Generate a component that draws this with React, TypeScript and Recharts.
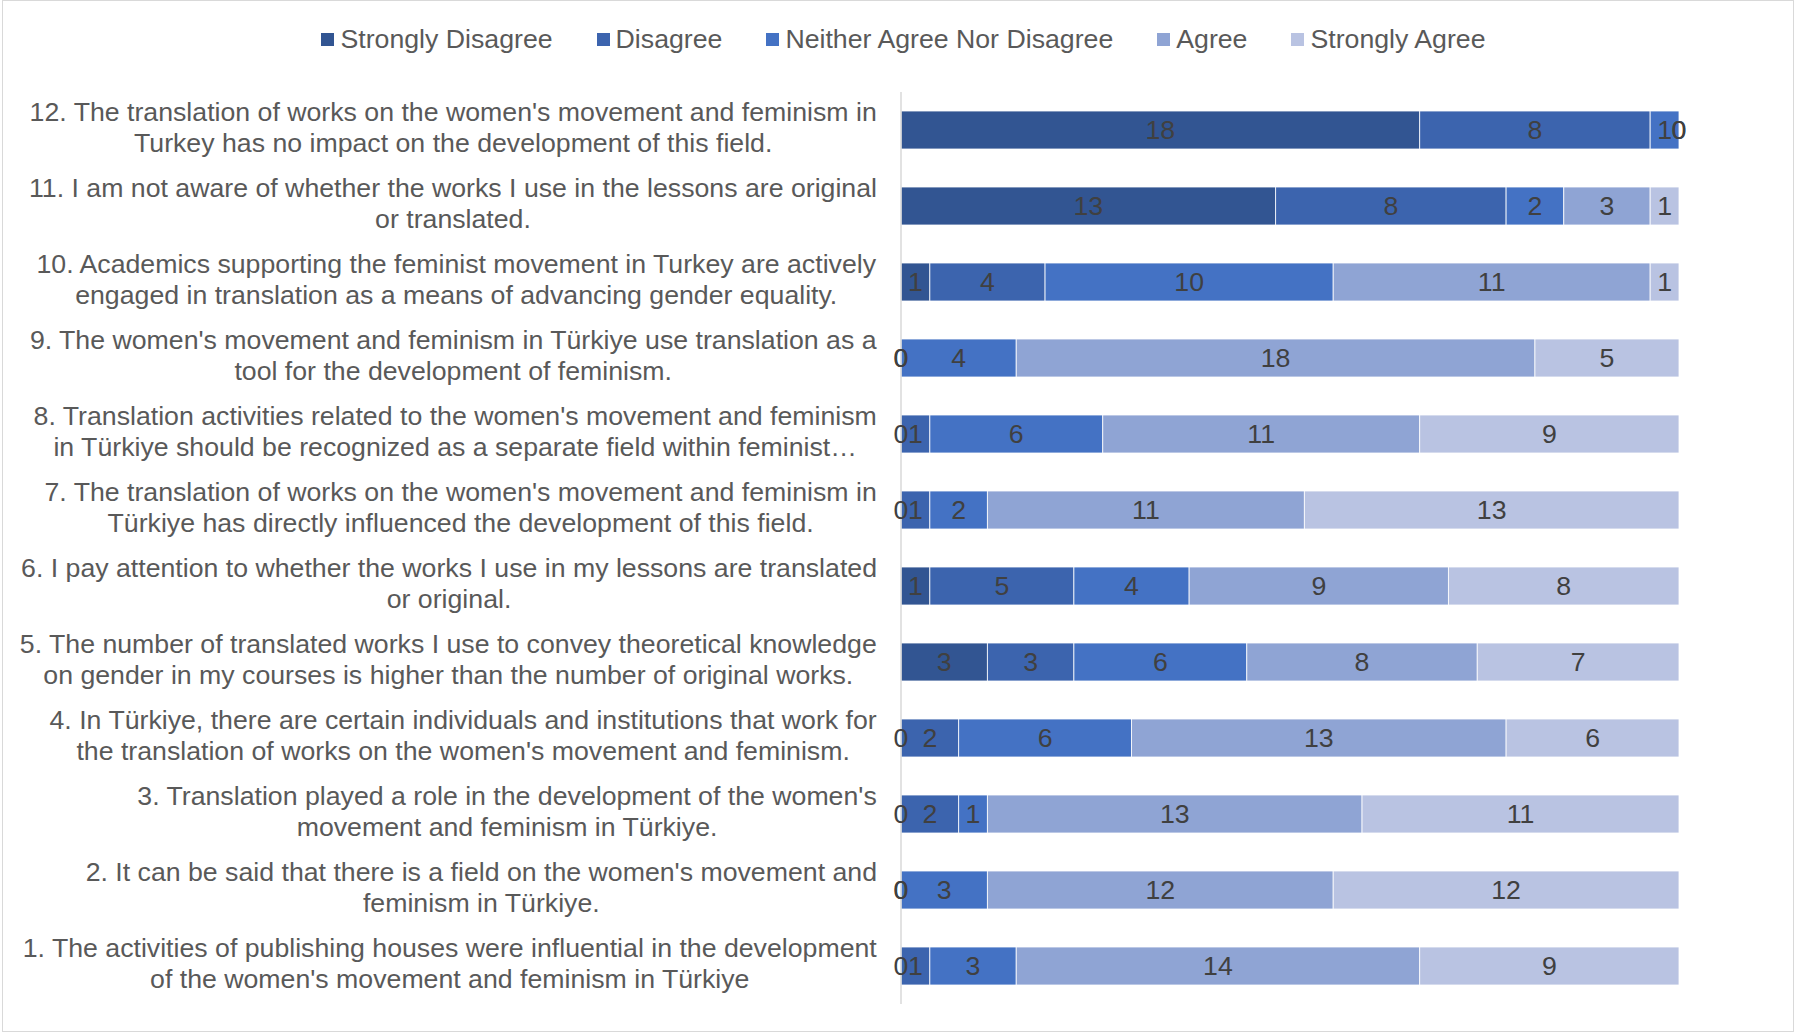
import React from 'react';
import { BarChart, Bar, XAxis, YAxis, LabelList } from 'recharts';

const FONT = '"Liberation Sans", Arial, sans-serif';
const FS = 26.7;

// survey items, top to bottom (explicit line breaks as in the original)
const questions = [
  "12. The translation of works on the women's movement and feminism in\nTurkey has no impact on the development of this field.",
  "11. I am not aware of whether the works I use in the lessons are original\nor translated.",
  "10. Academics supporting the feminist movement in Turkey are actively\nengaged in translation as a means of advancing gender equality.",
  "9. The women's movement and feminism in Türkiye use translation as a\ntool for the development of feminism.",
  "8. Translation activities related to the women's movement and feminism\nin Türkiye should be recognized as a separate field within feminist…",
  "7. The translation of works on the women's movement and feminism in\nTürkiye has directly influenced the development of this field.",
  "6. I pay attention to whether the works I use in my lessons are translated\nor original.",
  "5. The number of translated works I use to convey theoretical knowledge\non gender in my courses is higher than the number of original works.",
  "4. In Türkiye, there are certain individuals and institutions that work for\nthe translation of works on the women's movement and feminism.",
  "3. Translation played a role in the development of the women's\nmovement and feminism in Türkiye.",
  "2. It can be said that there is a field on the women's movement and\nfeminism in Türkiye.",
  "1. The activities of publishing houses were influential in the development\nof the women's movement and feminism in Türkiye",
];

const stronglyDisagree = [18, 13, 1, 0, 0, 0, 1, 3, 0, 0, 0, 0];
const disagree = [8, 8, 4, 0, 1, 1, 5, 3, 2, 2, 0, 1];
const neither = [1, 2, 10, 4, 6, 2, 4, 6, 6, 1, 3, 3];
const agree = [0, 3, 11, 18, 11, 11, 9, 8, 13, 13, 12, 14];
const stronglyAgree = [0, 1, 1, 5, 9, 13, 8, 7, 6, 11, 12, 9];

const seriesNames = ['Strongly Disagree', 'Disagree', 'Neither Agree Nor Disagree', 'Agree', 'Strongly Agree'];
const seriesKeys = ['sd', 'd', 'n', 'a', 'sa'];
const seriesColors = ['#325592', '#3C64AE', '#4472C4', '#8FA4D4', '#B9C3E2'];

const data: any[] = questions.map((q, i) => ({
  q,
  sd: stronglyDisagree[i],
  d: disagree[i],
  n: neither[i],
  a: agree[i],
  sa: stronglyAgree[i],
}));

const total = stronglyDisagree[0] + disagree[0] + neither[0] + agree[0] + stronglyAgree[0];

let ctx: CanvasRenderingContext2D | null = null;
const textWidth = (s: string) => {
  if (!ctx) ctx = document.createElement('canvas').getContext('2d');
  ctx!.font = `${FS}px ${FONT}`;
  return ctx!.measureText(s).width;
};

const QuestionTick = (props: any) => {
  const { x, y, payload } = props;
  const lines: string[] = String(payload.value).split('\n');
  const maxW = Math.max(...lines.map(textWidth));
  const cx = x - maxW / 2;
  return (
    <g>
      {lines.map((line, i) => (
        <text
          key={i}
          x={cx}
          y={y - 2.5 + (i - (lines.length - 1) / 2) * 31}
          textAnchor="middle"
          dominantBaseline="central"
          fill="#595959"
          fontSize={FS}
          fontFamily={FONT}
        >
          {line}
        </text>
      ))}
    </g>
  );
};

const labelText = (key: string, x: number, y: number, v: number) => (
  <text key={key} x={x} y={y} textAnchor="middle" dominantBaseline="central" fill="#404040" fontSize={FS} fontFamily={FONT}>
    {v}
  </text>
);

const SegmentLabel = (props: any) => {
  const { x, y, width, height, value } = props;
  return labelText('v', Number(x) + Number(width) / 2, Number(y) + Number(height) / 2, value);
};

// the "neither" segment is never empty, so it also places the "0" labels
// of the empty segments in its row (recharts skips labels for zero-width bars)
const NeitherLabel = (props: any) => {
  const { x, y, width, height, value, index } = props;
  const row = data[index];
  const cy = Number(y) + Number(height) / 2;
  const unit = Number(width) / row.n;
  const left = Number(x) - (row.sd + row.d) * unit;
  let acc = 0;
  const zeros: React.ReactNode[] = [];
  seriesKeys.forEach((k) => {
    if (row[k] === 0) zeros.push(labelText(k, left + acc * unit, cy, 0));
    acc += row[k];
  });
  return (
    <g>
      {labelText('v', Number(x) + Number(width) / 2, cy, value)}
      {zeros}
    </g>
  );
};

export default function App() {
  return (
    <div style={{ position: 'absolute', left: 0, top: 0, width: 1795, height: 1034, background: '#fff', fontFamily: FONT }}>
      <div style={{ position: 'absolute', left: 2, top: 0, width: 1792, height: 1032, border: '1px solid #d9d9d9', boxSizing: 'border-box' }} />
      <div style={{ position: 'absolute', top: 22, left: 0, width: 1795, paddingLeft: 12, boxSizing: 'border-box', display: 'flex', justifyContent: 'center', gap: 44 }}>
        {seriesNames.map((name, i) => (
          <div key={name} style={{ display: 'flex', alignItems: 'center' }}>
            <span style={{ width: 13, height: 13, background: seriesColors[i], marginRight: 6, display: 'inline-block' }} />
            <span style={{ fontSize: FS, color: '#595959', lineHeight: '34px' }}>{name}</span>
          </div>
        ))}
      </div>
      <BarChart
        width={1795}
        height={1034}
        data={data}
        layout="vertical"
        margin={{ top: 92, right: 116, bottom: 30, left: 0 }}
        barSize={38}
        style={{ position: 'absolute', left: 0, top: 0 }}
      >
        <XAxis type="number" domain={[0, total]} hide />
        <YAxis
          type="category"
          dataKey="q"
          width={901}
          tickLine={false}
          tickSize={0}
          tickMargin={24}
          axisLine={{ stroke: '#d9d9d9', strokeWidth: 1.5 }}
          tick={<QuestionTick />}
          interval={0}
        />
        {seriesKeys.map((k, i) => (
          <Bar key={k} dataKey={k} name={seriesNames[i]} stackId="s" fill={seriesColors[i]} stroke="#ffffff" strokeWidth={0.8} isAnimationActive={false}>
            <LabelList dataKey={k} content={k === 'n' ? <NeitherLabel /> : <SegmentLabel />} />
          </Bar>
        ))}
      </BarChart>
    </div>
  );
}
